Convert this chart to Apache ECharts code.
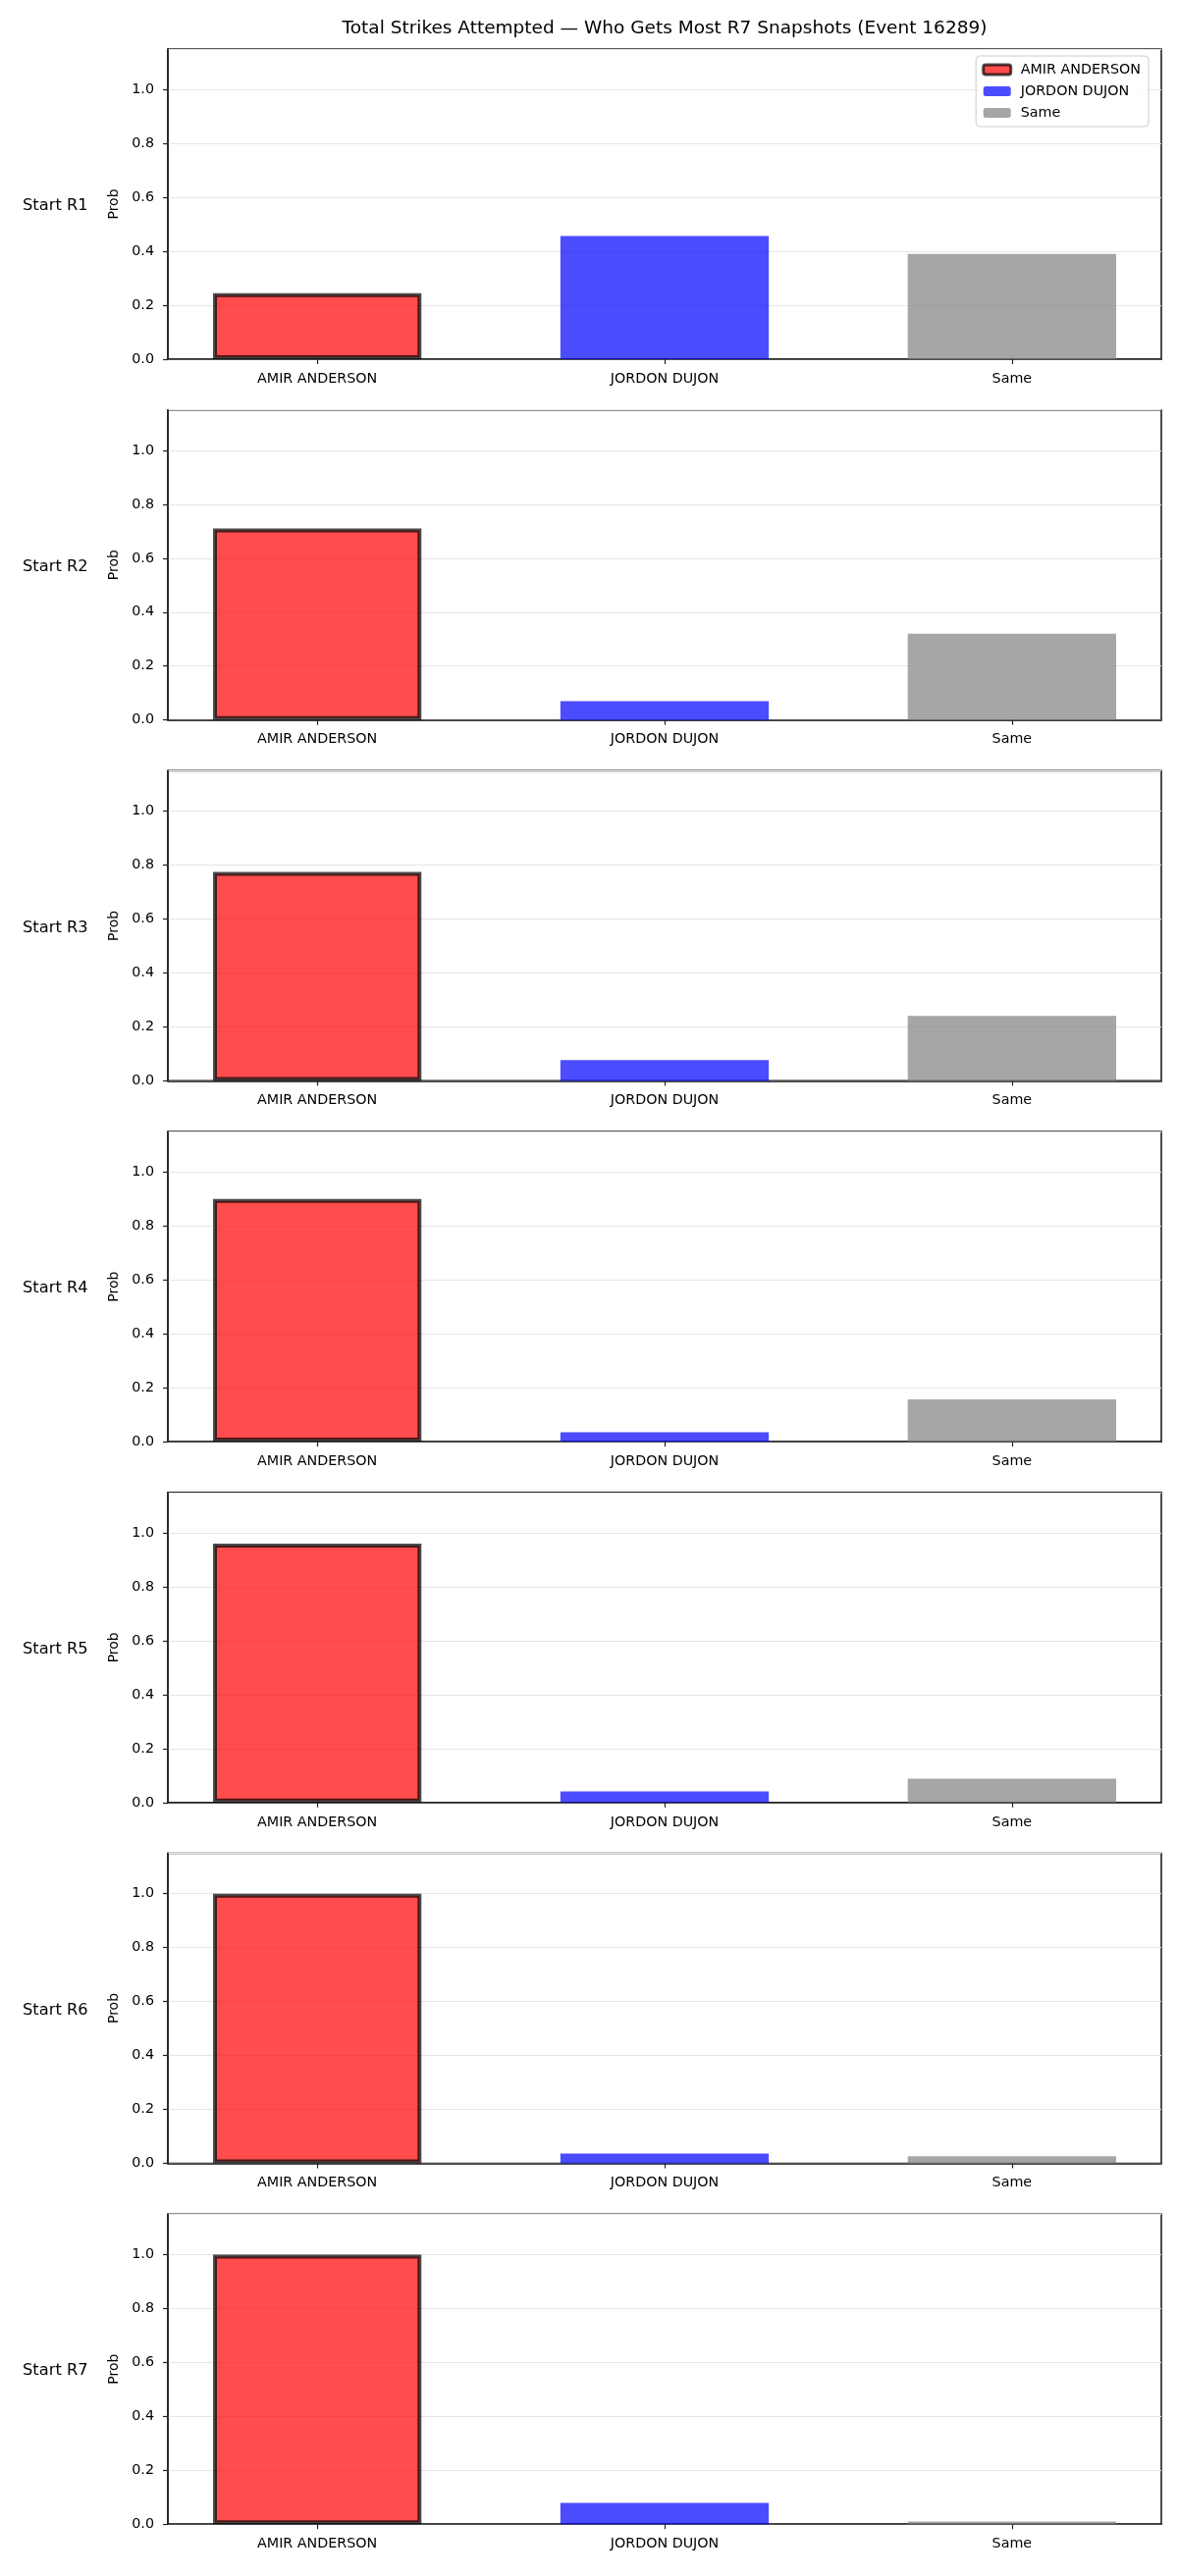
<!DOCTYPE html>
<html>
<head>
<meta charset="utf-8">
<title>Total Strikes Attempted — Who Gets Most R7 Snapshots</title>
<script src="https://cdn.jsdelivr.net/npm/echarts@6/dist/echarts.min.js"></script>
<style>
  html, body { margin: 0; padding: 0; background: #ffffff; }
  #chart { width: 1200px; height: 2625px; }
</style>
</head>
<body>
<div id="chart"></div>
<script>
// values
var categories = ["AMIR ANDERSON", "JORDON DUJON", "Same"];
var rounds = ["Start R1", "Start R2", "Start R3", "Start R4", "Start R5", "Start R6", "Start R7"];
var amirProb = [0.245, 0.71, 0.775, 0.9, 0.96, 1.0, 1.0];
var jordonProb = [0.457, 0.07, 0.077, 0.035, 0.041, 0.036, 0.079];
var sameProb = [0.39, 0.32, 0.241, 0.157, 0.088, 0.026, 0.01];
var yMax = 1.15;
var yStep = 0.2;
var xMin = -0.43;
var xMax = 2.43;

(function () {
  "use strict";

  var FONT = "DejaVu Sans";
  var INK = "#222222";

  var layout = {
    left: 171,
    right: 17,
    top: 50,
    pitch: 367.7,
    height: 316
  };
  var plotWidth = 1200 - layout.left - layout.right;
  var barWidth = 0.6 * plotWidth / (xMax - xMin);

  var looks = [
    { name: categories[0], values: amirProb, color: "rgba(255, 0, 0, 0.7)", border: "rgba(0, 0, 0, 0.7)", borderWidth: 4 },
    { name: categories[1], values: jordonProb, color: "rgba(0, 0, 255, 0.7)", border: "transparent", borderWidth: 0 },
    { name: categories[2], values: sameProb, color: "rgba(128, 128, 128, 0.7)", border: "transparent", borderWidth: 0 }
  ];

  var grids = [], xAxes = [], yAxes = [], series = [], titles = [];

  titles.push({
    text: "Total Strikes Attempted — Who Gets Most R7 Snapshots (Event 16289)",
    left: layout.left + plotWidth / 2,
    top: 20,
    padding: 0,
    textAlign: "center",
    textStyle: { fontFamily: FONT, fontSize: 18.5, fontWeight: "normal", color: "#000000" }
  });

  rounds.forEach(function (round, i) {
    var top = layout.top + i * layout.pitch;

    grids.push({
      left: layout.left,
      right: layout.right,
      top: top,
      height: layout.height,
      show: true,
      borderColor: INK,
      borderWidth: 1.6,
      backgroundColor: "#ffffff"
    });

    titles.push({
      text: round,
      left: 23,
      top: top + layout.height / 2 - 6,
      padding: 0,
      textStyle: { fontFamily: FONT, fontSize: 16.3, fontWeight: "normal", color: "#000000" }
    });

    xAxes.push({
      type: "value",
      gridIndex: i,
      min: xMin,
      max: xMax,
      splitLine: { show: false },
      axisLine: { show: true, onZero: false, lineStyle: { color: INK, width: 1.6 } },
      axisTick: { show: true, length: 5, customValues: [0, 1, 2], lineStyle: { color: INK, width: 1.2 } },
      axisLabel: {
        customValues: [0, 1, 2],
        margin: 13,
        fontFamily: FONT,
        fontSize: 14.3,
        color: "#000000",
        formatter: function (v) { return categories[Math.round(v)] || ""; }
      }
    });

    yAxes.push({
      type: "value",
      gridIndex: i,
      min: 0,
      max: yMax,
      interval: yStep,
      name: "Prob",
      nameLocation: "middle",
      nameGap: 47,
      nameTextStyle: { fontFamily: FONT, fontSize: 14, color: "#000000" },
      axisLine: { show: true, onZero: false, lineStyle: { color: INK, width: 1.6 } },
      axisTick: { show: true, length: 5, lineStyle: { color: INK, width: 1.2 } },
      axisLabel: {
        showMaxLabel: false,
        margin: 14,
        fontFamily: FONT,
        fontSize: 14.3,
        color: "#000000",
        formatter: function (v) { return v.toFixed(1); }
      },
      splitLine: { show: true, lineStyle: { color: "#e6e6e6", width: 1 } }
    });

    looks.forEach(function (look, k) {
      series.push({
        type: "bar",
        name: look.name,
        xAxisIndex: i,
        yAxisIndex: i,
        barWidth: barWidth,
        barGap: "-100%",
        data: [[k, look.values[i]]],
        itemStyle: {
          color: look.color,
          borderColor: look.border,
          borderWidth: look.borderWidth
        },
        emphasis: { disabled: true },
        z: 3
      });
    });
  });

  var option = {
    backgroundColor: "#ffffff",
    animation: false,
    title: titles,
    grid: grids,
    xAxis: xAxes,
    yAxis: yAxes,
    legend: {
      orient: "vertical",
      right: 30,
      top: 57,
      padding: [7, 8, 7, 6],
      itemWidth: 28,
      itemHeight: 10,
      itemGap: 8,
      borderColor: "#cccccc",
      borderWidth: 1,
      borderRadius: 4,
      backgroundColor: "rgba(255, 255, 255, 0.8)",
      textStyle: { fontFamily: FONT, fontSize: 14.3, color: "#000000", padding: [0, 0, 0, 5] },
      data: [
        { name: categories[0], itemStyle: { borderWidth: 3 } },
        { name: categories[1] },
        { name: categories[2] }
      ]
    },
    series: series
  };

  var chart = echarts.init(document.getElementById("chart"), null, { renderer: "canvas" });
  chart.setOption(option);
})();
</script>
</body>
</html>
